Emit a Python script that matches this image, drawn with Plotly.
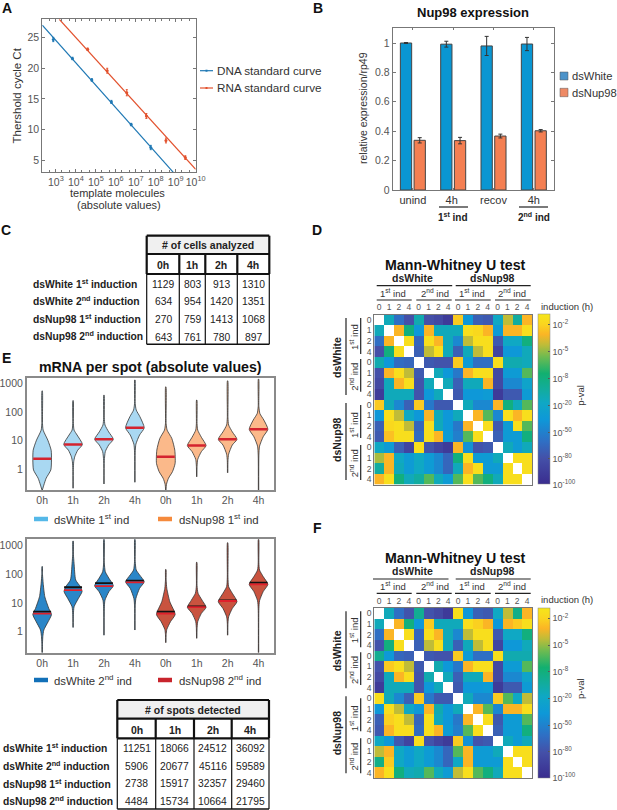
import plotly.graph_objects as go

W, H = 617, 810
FONT = "Liberation Sans"
GREY = "#555555"

# panel A - standard curves
dna_log_x = [2.87, 3.83, 4.80, 5.78, 6.77, 7.75]
dna_ct = [24.7, 21.6, 18.1, 14.5, 10.8, 7.05]
dna_err = [0.35, 0.2, 0.2, 0.25, 0.2, 0.35]
rna_log_x = [4.59, 5.57, 6.55, 7.53, 8.51, 9.48]
rna_ct = [23.1, 19.6, 16.0, 12.2, 8.2, 5.4]
rna_err = [0.2, 0.4, 0.5, 0.4, 0.4, 0.3]
dna_fit_log_x = [2.32, 8.88]
dna_fit_ct = [27.05, 3.0]
rna_fit_log_x = [3.17, 10.0]
rna_fit_ct = [28.0, 3.5]
a_decades = [3, 4, 5, 6, 7, 8, 9, 10]
a_ct_ticks = [5, 10, 15, 20, 25]

# panel B - Nup98 expression
b_groups = ["unind", "4h ", "recov", "4h"]
b_white = [1.0, 0.992, 0.98, 0.993]
b_white_err = [0.003, 0.02, 0.065, 0.045]
b_nup = [0.338, 0.336, 0.367, 0.403]
b_nup_err = [0.018, 0.022, 0.013, 0.008]

# tables C and E
table_hours = ["0h", "1h", "2h", "4h"]
table_rows = ["dsWhite 1<sup>st</sup> induction", "dsWhite 2<sup>nd</sup> induction",
              "dsNup98 1<sup>st</sup> induction", "dsNup98 2<sup>nd</sup> induction"]
cells_analyzed = [[1129, 803, 913, 1310], [634, 954, 1420, 1351],
                  [270, 759, 1413, 1068], [643, 761, 780, 897]]
spots_detected = [[11251, 18066, 24512, 36092], [5906, 20677, 45116, 59589],
                  [2738, 15917, 32357, 29460], [4484, 15734, 10664, 21795]]

# panel E - violin outlines: log10(mRNA) and relative half width
violin_hours = ["0h", "1h", "2h", "4h", "0h", "1h", "2h", "4h"]
e1_logs = [[-.72, -.55, -.31, -.02, .33, .67, 1.02, 1.37, 1.6, 2.74],
           [-.66, 0, .27, .44, .67, .87, 1.2, 1.37, 1.6, 2.4],
           [-.51, .3, .62, .85, 1.05, 1.31, 1.55, 1.8, 2.59],
           [-.45, .6, .88, 1.2, 1.45, 1.84, 2.07, 2.3, 3.12],
           [-.72, -.52, -.31, -.08, .21, .67, 1.08, 1.37, 1.6, 2.88],
           [-.26, .1, .35, .62, .83, 1.12, 1.37, 1.6, 2.42],
           [-.12, .3, .53, .85, 1.05, 1.31, 1.55, 1.8, 3.09],
           [-.72, .5, .81, 1.14, 1.4, 1.72, 1.95, 2.2, 3.15]]
e1_widths = [[.6, 5, 12, 26, 28, 27, 17, 3, 1, .6],
             [.6, .8, 2, 5, 14, 28, 12, 3, 1, .6],
             [.6, 1, 4, 14, 28, 14, 3, 1, .6],
             [.6, 1, 3, 14, 28, 15, 4, 1, .6],
             [.6, 2, 8, 20, 28, 27, 18, 4, 1, .6],
             [.6, 1, 3, 14, 28, 14, 3, 1, .6],
             [.6, 1, 3, 14, 28, 14, 3, 1, .6],
             [.6, 1, 3, 14, 28, 16, 4, 1, .6]]
e1_medians = [.37, .87, 1.05, 1.45, .44, .83, 1.05, 1.4]

e2_logs = [[-.73, -.4, -.17, .06, .35, .6, .81, 1.22, 1.69, 2.0, 2.27],
           [.15, .6, .87, 1.16, 1.4, 1.57, 1.8, 2.38, 2.7, 3.16],
           [-.12, .8, 1.1, 1.4, 1.6, 1.86, 2.09, 2.4, 3.22],
           [.06, .9, 1.16, 1.51, 1.74, 1.98, 2.15, 2.45, 3.22],
           [-.38, -.1, .08, .35, .6, 1.05, 1.51, 1.8, 2.17],
           [-.23, .1, .35, .64, .85, 1.1, 1.34, 1.6, 2.42],
           [-.12, .3, .52, .81, 1.05, 1.34, 1.57, 1.9, 3.1],
           [-.73, .8, 1.08, 1.4, 1.65, 1.92, 2.15, 2.4, 3.22]]
e2_widths = [[.6, 1, 2, 5, 18, 28, 20, 8, 3, 1, .6],
             [.6, 1, 3, 16, 27, 22, 8, 3, 1, .6],
             [.6, 1, 3, 15, 28, 15, 4, 1, .6],
             [.6, 1, 3, 14, 28, 14, 4, 1, .6],
             [.6, 1, 3, 14, 28, 12, 3, 1, .6],
             [.6, 1, 3, 14, 28, 16, 4, 1, .6],
             [.6, 1, 3, 14, 28, 14, 3, 1, .6],
             [.6, 1, 3, 14, 28, 14, 3, 1, .6]]
e2_red = [.63, 1.45, 1.59, 1.72, .63, .86, 1.07, 1.65]
e2_black = [.70, 1.55, 1.69, 1.78, .70, .88, 1.09, 1.71]

# panels D and F - position on the p-value colour scale (0 = 10^-100, 100 = top), None = diagonal
mw_d = [[None, 50, 25, 15, 52, 15, 12, 6, 92, 38, 20, 18, 48, 82, 55, 88],
        [50, None, 88, 62, 38, 88, 50, 50, 50, 97, 95, 88, 40, 88, 88, 97],
        [25, 88, None, 97, 22, 97, 88, 50, 33, 82, 97, 97, 18, 48, 48, 62],
        [15, 62, 97, None, 20, 82, 97, 50, 20, 50, 82, 97, 10, 38, 38, 50],
        [52, 38, 24, 22, None, 18, 16, 16, 92, 40, 25, 25, 97, 52, 52, 50],
        [15, 88, 97, 82, 18, None, 50, 38, 28, 88, 97, 97, 12, 40, 40, 72],
        [12, 50, 88, 97, 16, 50, None, 50, 20, 50, 50, 88, 12, 33, 33, 45],
        [6, 50, 50, 50, 16, 38, 50, None, 18, 38, 38, 40, 6, 18, 18, 40],
        [92, 50, 33, 20, 92, 28, 18, 18, None, 50, 33, 33, 88, 62, 50, 72],
        [38, 97, 82, 48, 38, 88, 50, 38, 50, None, 88, 72, 33, 97, 88, 97],
        [20, 95, 97, 82, 22, 97, 50, 38, 28, 88, None, 97, 18, 40, 97, 72],
        [18, 90, 97, 97, 24, 97, 88, 40, 30, 72, 97, None, 20, 40, 40, 62],
        [48, 40, 20, 10, 97, 16, 10, 6, 88, 36, 16, 18, None, 50, 40, 50],
        [80, 88, 48, 40, 48, 40, 33, 22, 62, 97, 40, 40, 50, None, 97, 97],
        [55, 88, 50, 40, 48, 40, 33, 22, 50, 88, 97, 40, 40, 97, None, 97],
        [88, 97, 62, 50, 55, 72, 50, 40, 72, 97, 72, 62, 50, 97, 97, None]]
mw_f = [[None, 50, 25, 16, 58, 16, 12, 6, 97, 38, 20, 18, 48, 82, 60, 88],
        [50, None, 88, 62, 38, 92, 50, 50, 50, 97, 93, 88, 38, 88, 92, 97],
        [25, 88, None, 97, 22, 97, 88, 50, 33, 82, 97, 97, 18, 48, 48, 62],
        [16, 62, 97, None, 20, 82, 97, 50, 20, 50, 82, 97, 10, 38, 38, 50],
        [58, 38, 22, 20, None, 18, 16, 16, 92, 40, 25, 25, 97, 52, 52, 52],
        [16, 92, 97, 82, 18, None, 52, 38, 28, 88, 97, 97, 12, 40, 40, 72],
        [12, 50, 88, 97, 16, 52, None, 50, 20, 50, 50, 88, 12, 33, 33, 45],
        [6, 50, 50, 50, 16, 38, 50, None, 18, 38, 38, 40, 6, 18, 18, 40],
        [97, 50, 33, 20, 92, 28, 18, 18, None, 50, 33, 33, 92, 72, 48, 82],
        [38, 97, 82, 48, 38, 88, 52, 38, 50, None, 88, 72, 33, 88, 88, 97],
        [20, 93, 97, 82, 22, 97, 50, 38, 28, 88, None, 97, 18, 40, 40, 72],
        [18, 88, 97, 97, 24, 97, 88, 40, 30, 72, 97, None, 20, 40, 40, 62],
        [48, 38, 18, 10, 97, 16, 10, 6, 92, 36, 16, 18, None, 50, 40, 50],
        [82, 88, 48, 40, 48, 40, 33, 22, 72, 88, 40, 40, 50, None, 97, 97],
        [60, 92, 48, 40, 48, 40, 33, 22, 48, 88, 40, 40, 40, 97, None, 97],
        [88, 97, 62, 50, 52, 72, 50, 40, 82, 97, 72, 62, 50, 97, 97, None]]
mw_hours = ["0", "1", "2", "4"] * 4
pval_ticks = [0, 15.3, 30.6, 46.5, 62.4, 78.2, 94]
pval_labels = ["-100", "-80", "-50", "-20", "-8", "-5", "-2"]
parula = [[0, "#3a2d8f"], [.15, "#4450a8"], [.25, "#2f6fc4"], [.38, "#0e98d8"], [.48, "#0fa8c4"],
          [.55, "#12aca0"], [.65, "#12b070"], [.75, "#70bb50"], [.82, "#c0bc38"], [.88, "#fbb525"],
          [.94, "#fad51f"], [1, "#f5e61a"]]


def dom_x(a, b):
    return [a / W, b / W]


def dom_y(top, bottom):
    return [1 - bottom / H, 1 - top / H]


annotations = []
shapes = []


def txt(x, y, s, size=10, color="#222222", anchor="center", bold=False, angle=0):
    annotations.append(dict(x=x / W, y=1 - y / H, xref="paper", yref="paper", text=f"<b>{s}</b>" if bold else s,
                            showarrow=False, xanchor=anchor, yanchor="middle", textangle=angle,
                            font=dict(family=FONT, size=size, color=color)))


def line(x0, y0, x1, y1, color="#222222", width=1.2):
    shapes.append(dict(type="line", xref="paper", yref="paper", x0=x0 / W, x1=x1 / W, y0=1 - y0 / H, y1=1 - y1 / H,
                       line=dict(color=color, width=width)))


def box(x0, y0, x1, y1, fill, outline=None, width=1):
    shapes.append(dict(type="rect", xref="paper", yref="paper", x0=x0 / W, x1=x1 / W, y0=1 - y0 / H, y1=1 - y1 / H,
                       fillcolor=fill, line=dict(color=outline, width=width if outline else 0)))


fig = go.Figure()

# A
for xs, ys, err, fx, fy, col in [(dna_log_x, dna_ct, dna_err, dna_fit_log_x, dna_fit_ct, "#1f78b4"),
                                 (rna_log_x, rna_ct, rna_err, rna_fit_log_x, rna_fit_ct, "#e2512d")]:
    fig.add_trace(go.Scatter(x=[10 ** v for v in fx], y=fy, mode="lines", line=dict(color=col, width=1.2),
                             xaxis="x", yaxis="y", showlegend=False))
    fig.add_trace(go.Scatter(x=[10 ** v for v in xs], y=ys, mode="markers", marker=dict(color=col, size=3),
                             error_y=dict(array=err, color=col, thickness=1, width=1),
                             xaxis="x", yaxis="y", showlegend=False))

# B
fig.add_trace(go.Bar(x=b_groups, y=b_white, error_y=dict(array=b_white_err, color="#333333", thickness=1, width=2),
                     marker=dict(color="#0a96d2", line=dict(color="#444444", width=1)), xaxis="x2", yaxis="y2",
                     showlegend=False))
fig.add_trace(go.Bar(x=b_groups, y=b_nup, error_y=dict(array=b_nup_err, color="#333333", thickness=1, width=2),
                     marker=dict(color="#f47f52", line=dict(color="#444444", width=1)), xaxis="x2", yaxis="y2",
                     showlegend=False))


# E
def add_violins(logs, widths, fills, xa, ya):
    for i in range(8):
        pos = i + 1
        left = [pos - w / 92.8 for w in widths[i]]
        right = [pos + w / 92.8 for w in widths[i]]
        vals = [10 ** v for v in logs[i]]
        fig.add_trace(go.Scatter(x=left + right[::-1], y=vals + vals[::-1], mode="lines", fill="toself",
                                 fillcolor=fills[i], line=dict(color="#333333", width=0.8, shape="spline", smoothing=0.6),
                                 xaxis=xa, yaxis=ya, showlegend=False))


def add_median(vals, xa, ya, col, width=2.5):
    for i, v in enumerate(vals):
        fig.add_trace(go.Scatter(x=[i + 1 - 0.29, i + 1 + 0.29], y=[10 ** v, 10 ** v], mode="lines",
                                 line=dict(color=col, width=width), xaxis=xa, yaxis=ya, showlegend=False))


add_violins(e1_logs, e1_widths, ["#a9d8f2"] * 4 + ["#fbb98a"] * 4, "x4", "y4")
add_median(e1_medians, "x4", "y4", "#d4232e")
add_violins(e2_logs, e2_widths, ["#2a86c8"] * 4 + ["#c9533f"] * 4, "x5", "y5")
add_median(e2_black, "x5", "y5", "#111111", 1.8)
add_median(e2_red, "x5", "y5", "#e0202c", 1.8)

# D and F
for z, xa, ya, top in [(mw_d, "x3", "y3", 314.5), (mw_f, "x6", "y6", 608)]:
    fig.add_trace(go.Heatmap(z=z, colorscale=parula, zmin=0, zmax=100, xaxis=xa, yaxis=ya, xgap=0, ygap=0, hoverongaps=False,
                             colorbar=dict(x=538 / W, xanchor="left", xpad=0, ypad=0, y=1 - (top + 85) / H, yanchor="middle",
                                           len=170, lenmode="pixels", thickness=12, thicknessmode="pixels",
                                           tickvals=pval_ticks, ticktext=[f"10<sup>{p}</sup>" for p in pval_labels],
                                           ticks="inside", ticklen=2, tickcolor=GREY, outlinecolor="#888888", outlinewidth=0.5,
                                           tickfont=dict(family=FONT, size=9, color=GREY))))

axis_font = dict(family=FONT, size=10.5, color=GREY)
frame = dict(showline=True, mirror=True, linecolor="#777777", linewidth=1, showgrid=False, zeroline=False)
frame_ticks = dict(frame, mirror="ticks", ticks="inside", ticklen=3, tickcolor="#777777", tickfont=axis_font)
v_frame = dict(showline=True, mirror=True, linecolor="#8a8a8a", linewidth=1.5, showgrid=False, zeroline=False,
               ticks="", tickfont=axis_font)
hm_font = dict(family=FONT, size=8.5, color=GREY)
hm_x = dict(frame, side="top", range=[-0.5, 15.5], tickvals=list(range(16)), ticktext=mw_hours, ticks="", tickfont=hm_font)
hm_y = dict(frame, range=[15.5, -0.5], tickvals=list(range(16)), ticktext=mw_hours, ticks="", tickfont=hm_font)

fig.update_layout(
    width=W, height=H, margin=dict(l=0, r=0, t=0, b=0, autoexpand=False), paper_bgcolor="white", plot_bgcolor="white",
    font=dict(family=FONT), barmode="group", bargap=0.32, bargroupgap=0.176,
    xaxis=dict(frame_ticks, type="log", domain=dom_x(42.3, 195.7), range=[2.32, 10], anchor="y", tickangle=0,
               tickvals=[10 ** d for d in a_decades], ticktext=[f"10<sup>{d}</sup>" for d in a_decades],
               minor=dict(ticks="inside", ticklen=2, tickcolor="#777777", showgrid=False)),
    yaxis=dict(frame_ticks, domain=dom_y(19.3, 172.3), range=[3, 28], tickvals=a_ct_ticks, anchor="x"),
    xaxis2=dict(frame_ticks, domain=dom_x(392.7, 554), range=[-0.5, 3.5], anchor="y2",
                tickfont=dict(family=FONT, size=11, color="#333333"), ticklen=2),
    yaxis2=dict(frame_ticks, domain=dom_y(28.3, 190), range=[0, 1.1], tickvals=[0, .2, .4, .6, .8, 1], ticktext=["0", "0.2", "0.4", "0.6", "0.8", "1"], anchor="x2"),
    xaxis3=dict(hm_x, domain=dom_x(374.3, 532), anchor="y3"),
    yaxis3=dict(hm_y, domain=dom_y(314.5, 484.5), anchor="x3"),
    xaxis4=dict(v_frame, domain=dom_x(26.7, 274), range=[0.5, 8.5], tickvals=list(range(1, 9)), ticktext=violin_hours, anchor="y4"),
    yaxis4=dict(v_frame, type="log", domain=dom_y(377.7, 490), range=[-0.72, 3.2], tickvals=[1, 10, 100, 1000], ticktext=["1", "10", "100", "1000"], anchor="x4"),
    xaxis5=dict(v_frame, domain=dom_x(26.7, 274), range=[0.5, 8.5], tickvals=list(range(1, 9)), ticktext=violin_hours, anchor="y5"),
    yaxis5=dict(v_frame, type="log", domain=dom_y(539.3, 652.7), range=[-0.73, 3.22], tickvals=[1, 10, 100, 1000], ticktext=["1", "10", "100", "1000"], anchor="x5"),
    xaxis6=dict(hm_x, domain=dom_x(374.3, 532), anchor="y6"),
    yaxis6=dict(hm_y, domain=dom_y(608, 778), anchor="x6"),
)

# panel letters
for s, x, y in [("A", 7, 8), ("B", 318, 8), ("C", 6, 230), ("D", 317, 230), ("E", 6, 358), ("F", 317, 528)]:
    txt(x, y, s, size=14, color="#111111", bold=True)

# A text
txt(16.7, 95.7, "Thershold cycle Ct", size=11.5, color="#333333", angle=-90)
txt(117.3, 193, "template molecules", size=11, color="#333333")
txt(119, 205, "(absolute values)", size=11, color="#333333")
for y, s, col in [(70.7, "DNA standard curve", "#1f78b4"), (88, "RNA standard curve", "#e2512d")]:
    line(200, y, 213, y, col, 1.2)
    box(205.5, y - 1, 207.5, y + 1, col)
    txt(215, y, s, size=11.7, color="#333333", anchor="left")

# B text
txt(472.7, 12, "Nup98 expression", size=13, color="#111111", bold=True)
txt(363, 108, "relative expression/rp49", size=10.5, color="#333333", angle=-90)
line(439, 207, 468, 207)
line(519, 207, 548, 207)
txt(453, 217, "1<sup>st</sup> ind", size=10, bold=True)
txt(533.7, 217, "2<sup>nd</sup> ind", size=10, bold=True)
box(560, 72, 568, 80, "#4c93c9", "#555555", 0.5)
box(560, 88.3, 568, 96.7, "#ee8a65", "#555555", 0.5)
txt(570, 76, "dsWhite", size=11.2, color="#333333", anchor="left")
txt(570, 92.7, "dsNup98", size=11.2, color="#333333", anchor="left")


# tables
def draw_table(title, rows, x_lines, y_lines, label_x, row_ys, label_ys):
    left, right = x_lines[0], x_lines[-1]
    y0, y1, y2, y3 = y_lines
    box(left, y0, right, y1, "#f0f0f0")
    line(left, y0, right, y0, "#111111", 2.2)
    line(left, y1, right, y1, "#111111", 2.2)
    line(left, y2, right, y2, "#111111", 2.2)
    line(left, y3, right, y3, "#111111", 1.4)
    line(left, y0, left, y2, "#111111", 2.2)
    line(right, y0, right, y2, "#111111", 2.2)
    line(left, y2, left, y3, "#111111", 1.2)
    line(right, y2, right, y3, "#111111", 1.2)
    for xl in x_lines[1:-1]:
        line(xl, y1, xl, y2, "#111111", 2.2)
        line(xl, y2, xl, y3, "#111111", 1.2)
    txt((left + right) / 2, (y0 + y1) / 2 + 0.5, title, size=10.5, bold=True)
    for c, hour in enumerate(table_hours):
        cx = (x_lines[c] + x_lines[c + 1]) / 2
        txt(cx, (y1 + y2) / 2 + 1, hour, size=10.5, bold=True)
        for r, row in enumerate(rows):
            txt(cx, row_ys[r], str(row[c]), size=10.3)
    for r, s in enumerate(table_rows):
        txt(label_x, label_ys[r], s, size=10.3, anchor="left", bold=True)


draw_table("# of cells analyzed", cells_analyzed, [146.7, 179.3, 205.3, 237.3, 269.3], [235.7, 254, 274, 344.3],
           30.7, [284, 301.7, 319.3, 337], [283.3, 301, 318.7, 336])
draw_table("# of spots detected", spots_detected, [117.3, 155.7, 194, 231.7, 269], [700, 718.7, 738.3, 809],
           1, [748.3, 766, 783.7, 801.3], [747.5, 765.5, 783, 800.5])

# E text
txt(150.7, 366.7, "mRNA per spot (absolute values)", size=14.2, color="#111111", bold=True)
for y, left_s, right_s, c1, c2 in [(519, "dsWhite 1<sup>st</sup> ind", "dsNup98 1<sup>st</sup> ind", "#55b8e8", "#f58a3c"),
                                   (680, "dsWhite 2<sup>nd</sup> ind", "dsNup98 2<sup>nd</sup> ind", "#1270b8", "#c8242c")]:
    line(34, y, 48, y, c1, 4.5)
    line(158, y, 172, y, c2, 4.5)
    txt(51.7, y, left_s, size=11.4, color="#333333", anchor="left")
    txt(176.7, y, right_s, size=11.4, color="#333333", anchor="left")


# labels round the heatmaps
def heat_labels(dy, first_line):
    txt(455, 265 + dy, "Mann-Whitney U test", size=14.2, color="#111111", bold=True)
    txt(412, 278 + dy, "dsWhite", size=10.5, bold=True)
    txt(492.7, 278 + dy, "dsNup98", size=10.5, bold=True)
    line(first_line, 285.7 + dy, first_line + 75.5, 285.7 + dy)
    line(455.7, 285.7 + dy, 530.7, 285.7 + dy)
    for cx, s in [(392.7, "1<sup>st</sup> ind"), (434.7, "2<sup>nd</sup> ind"), (472, "1<sup>st</sup> ind"), (511.7, "2<sup>nd</sup> ind")]:
        txt(cx, 292.7 + dy, s, size=9.5, color="#333333")
    for a, b in [(376.7, 411.7), (416.3, 451.7), (455, 490.7), (495, 530.7)]:
        line(a, 300 + dy, b, 300 + dy)
    txt(539, 306 + dy, "induction (h)", size=9.5, color="#333333", anchor="left")
    txt(580.7, 395 + dy, "p-val", size=9.5, color="#333333", angle=-90)
    for a, b, cy, s in [(318, 354, 337, "1<sup>st</sup> ind"), (359, 391.7, 376.7, "2<sup>nd</sup> ind"),
                        (405, 438, 425, "1<sup>st</sup> ind"), (445, 480, 463.3, "2<sup>nd</sup> ind")]:
        line(360.7, a + dy, 360.7, b + dy)
        txt(354, cy + dy, s, size=9.5, color="#333333", angle=-90)
    line(346, 318 + dy, 346, 395 + dy)
    line(346, 403 + dy, 346, 480 + dy)
    txt(337, 358 + dy, "dsWhite", size=10.5, bold=True, angle=-90)
    txt(337, 440 + dy, "dsNup98", size=10.5, bold=True, angle=-90)


heat_labels(0, 376.7)
heat_labels(293.3, 373)

fig.update_layout(annotations=annotations, shapes=shapes)
fig.write_html("out.html", config={"displayModeBar": False}, post_script="document.body.style.margin='0';")
